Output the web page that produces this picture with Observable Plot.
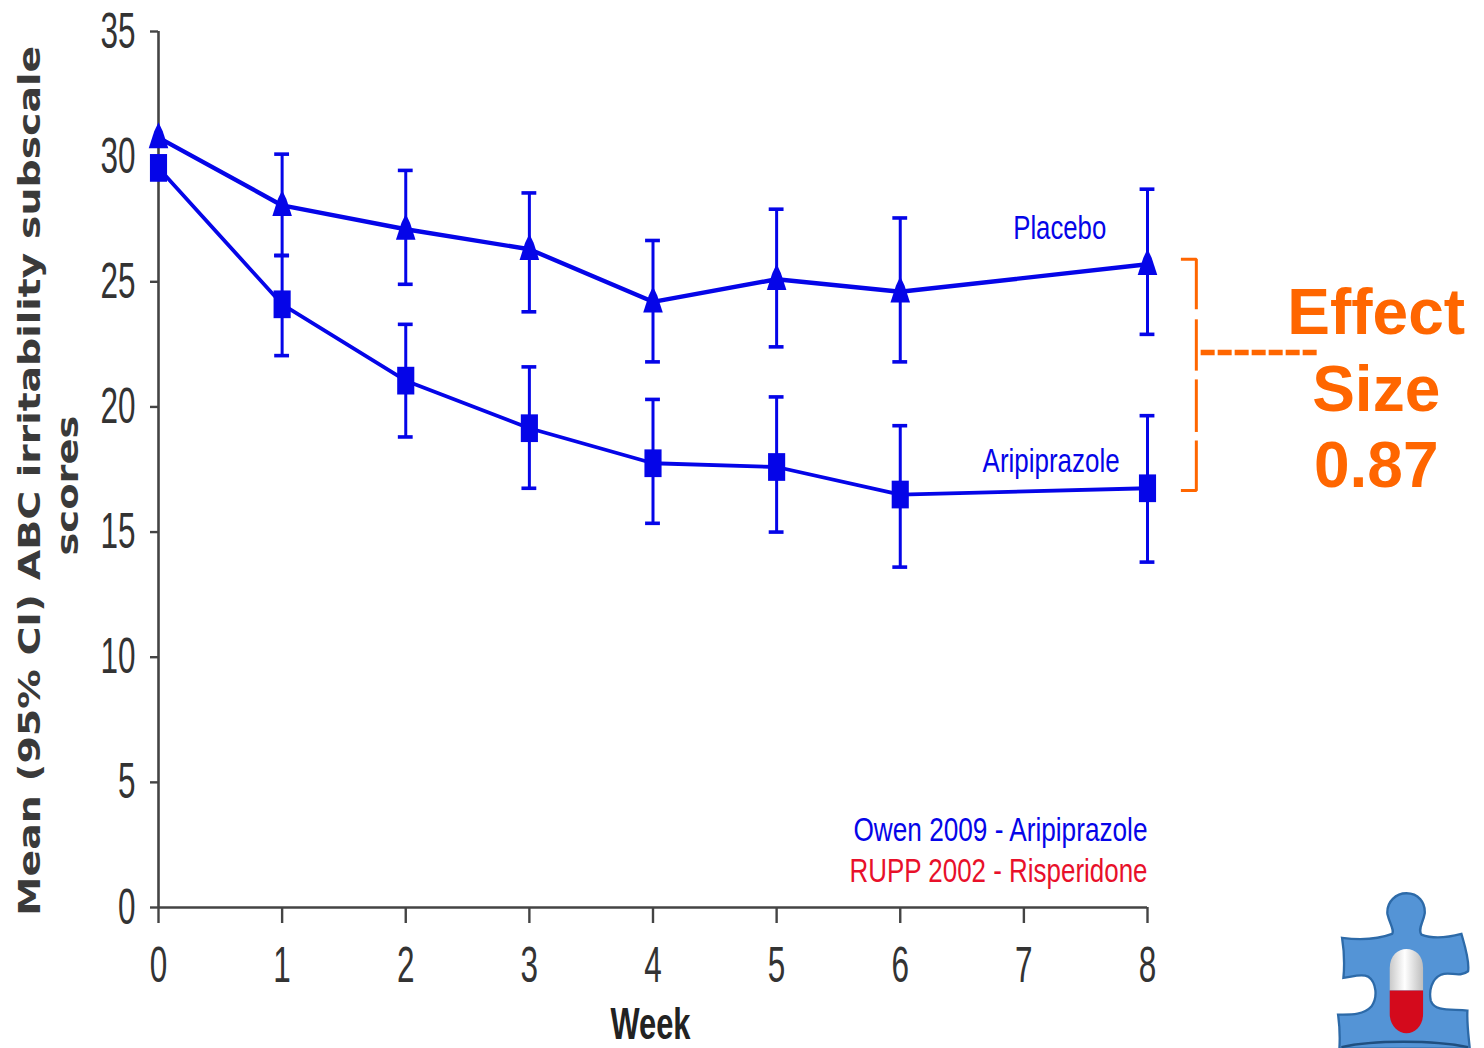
<!DOCTYPE html>
<html>
<head>
<meta charset="utf-8">
<style>html,body{margin:0;padding:0;background:#fff;overflow:hidden}svg{display:block}</style>
<script src="https://cdn.jsdelivr.net/npm/d3@7"></script>
<script src="https://cdn.jsdelivr.net/npm/@observablehq/plot@0.6"></script>
</head>
<body>
<div id="chart"></div>
<script>
const weeks = [0, 1, 2, 3, 4, 5, 6, 8];
const placeboMean = [30.76, 28.05, 27.1, 26.3, 24.2, 25.1, 24.6, 25.7];
const placeboHigh = [null, 30.1, 29.45, 28.55, 26.65, 27.9, 27.55, 28.7];
const placeboLow  = [null, 26.05, 24.9, 23.8, 21.8, 22.4, 21.8, 22.9];
const aripMean = [29.55, 24.1, 21.05, 19.15, 17.75, 17.6, 16.5, 16.75];
const aripHigh = [null, 26.05, 23.3, 21.6, 20.3, 20.4, 19.25, 19.65];
const aripLow  = [null, 22.05, 18.8, 16.75, 15.35, 15.0, 13.6, 13.8];
const xTicks = [0, 1, 2, 3, 4, 5, 6, 7, 8];
const yTicks = [0, 5, 10, 15, 20, 25, 30, 35];

const blue = "#0505e8", orange = "#ff6600", axisColor = "#444";
const capHalf = 0.06;

const rows = (means, highs, lows) => weeks.map((w, i) => ({w, mean: means[i], high: highs[i], low: lows[i]}));
const placebo = rows(placeboMean, placeboHigh, placeboLow);
const arip = rows(aripMean, aripHigh, aripLow);
const withCI = d => d.high != null;
const caps = s => s.filter(withCI).flatMap(d => [d.high, d.low].map(y => ({x1: d.w - capHalf, x2: d.w + capHalf, y})));

const tallTriangle = {draw(c, s) {
  const a = Math.sqrt(s);
  c.moveTo(0, -a * 0.72); c.lineTo(a * 0.2, -a * 0.3); c.lineTo(a * 0.46, a * 0.5); c.lineTo(-a * 0.46, a * 0.5); c.lineTo(-a * 0.2, -a * 0.3); c.closePath();
}};
const tallSquare = {draw(c, s) {
  const a = Math.sqrt(s);
  c.rect(-a * 0.42, -a * 0.68, a * 0.84, a * 1.36);
}};

// Puzzle-piece logo
const logo = `<svg xmlns="http://www.w3.org/2000/svg" viewBox="0 0 492 504">
<defs><linearGradient id="g" x1="0" x2="1" y1="0" y2="0"><stop offset="0" stop-color="#c9c9c9"/><stop offset=".45" stop-color="#fff"/><stop offset="1" stop-color="#bdbdbd"/></linearGradient></defs>
<path d="M62 172 C110 178 170 176 212 160 C220 150 205 130 198 100 C195 62 225 38 255 38 C290 38 312 65 310 98 C306 125 288 145 300 162 C340 178 390 168 420 160 C430 195 445 240 440 272 C415 292 385 272 360 282 C330 296 322 330 328 360 C340 395 390 385 438 390 C436 430 442 470 445 504 L54 504 C56 470 54 430 50 402 C85 402 125 405 150 378 C170 350 165 305 140 288 C118 278 90 290 66 292 C70 250 68 210 62 172 Z" fill="#5494d6" stroke="#2d6aa8" stroke-width="7"/>
<path d="M205 330 L205 262 C205 225 230 205 255 205 C282 205 305 225 305 262 L305 330 Z" fill="url(#g)"/>
<path d="M205 330 L305 330 L305 400 C305 435 282 458 255 458 C230 458 205 435 205 400 Z" fill="#d40a1c"/>
<path d="M60 500 C150 478 340 478 440 500" fill="none" stroke="#1f4f80" stroke-width="7"/>
</svg>`;
const logoSrc = "data:image/svg+xml," + encodeURIComponent(logo);

const labelFont = "Liberation Sans";
const narrow = (t, x, y, opts = {}) => Plot.text([t], {
  x: () => x, y: () => y, text: d => d, fontFamily: labelFont, fontSize: 34, fill: blue, ariaLabel: "fitted", ...opts
});
const effect = (t, y) => Plot.text([t], {
  x: () => 9.85, y: () => y, text: d => d, fontFamily: labelFont, fontWeight: "bold", fontSize: 64, fill: orange
});
const bracketLine = pts => Plot.line(pts, {stroke: orange, strokeWidth: 3, strokeLinecap: "butt", strokeLinejoin: "miter"});

const plot = Plot.plot({
  width: 1484, height: 1048,
  marginLeft: 158, marginRight: 337, marginTop: 31, marginBottom: 141,
  style: {background: "#fff", overflow: "hidden"},
  x: {domain: [0, 8], ticks: xTicks},
  y: {domain: [0, 35]},
  marks: [
    Plot.ruleX([0], {stroke: axisColor, strokeWidth: 2.6}),
    Plot.ruleY([0], {stroke: axisColor, strokeWidth: 2.6}),
    Plot.axisX({ticks: xTicks, tickSize: 16, tickPadding: 23, stroke: axisColor, strokeWidth: 2.4,
      fontSize: 50, fontFamily: labelFont, fill: "#333", label: null, tickFormat: d => String(d)}),
    Plot.axisY({ticks: yTicks, tickSize: 8, tickPadding: 15, stroke: axisColor, strokeWidth: 2.4,
      fontSize: 50, fontFamily: labelFont, fill: "#333", label: null, tickFormat: d => String(d)}),

    ...[placebo, arip].flatMap(s => [
      Plot.ruleX(s.filter(withCI), {x: "w", y1: "low", y2: "high", stroke: blue, strokeWidth: 3}),
      Plot.ruleY(caps(s), {x1: "x1", x2: "x2", y: "y", stroke: blue, strokeWidth: 3.6})
    ]),
    Plot.line(placebo, {x: "w", y: "mean", stroke: blue, strokeWidth: 4.4}),
    Plot.line(arip, {x: "w", y: "mean", stroke: blue, strokeWidth: 3.8}),
    Plot.dot(placebo, {x: "w", y: "mean", symbol: () => tallTriangle, r: 12, fill: blue, stroke: "none"}),
    Plot.dot(arip, {x: "w", y: "mean", symbol: () => tallSquare, r: 11.5, fill: blue, stroke: "none"}),

    narrow("Placebo", 7.29, 27.16),
    narrow("Aripiprazole", 7.22, 17.85),
    narrow("Owen 2009 - Aripiprazole", 8, 3.11, {textAnchor: "end"}),
    narrow("RUPP 2002 - Risperidone", 8, 1.47, {textAnchor: "end", fill: "#e8102a"}),
    narrow("Week", 3.98, -4.71, {fontSize: 44, fontWeight: "bold", fill: "#222"}),

    Plot.text(["Mean (95% CI) ABC irritability subscale"], {x: () => -1.04, y: () => 17.05, text: d => d, rotate: -90,
      fontFamily: "DejaVu Sans", fontWeight: "bold", fontSize: 31, fill: "#3a3a3a", ariaLabel: "fitted"}),
    Plot.text(["scores"], {x: () => -0.73, y: () => 16.86, text: d => d, rotate: -90,
      fontFamily: "DejaVu Sans", fontWeight: "bold", fontSize: 31, fill: "#3a3a3a", ariaLabel: "fitted"}),

    // effect-size bracket, split into segments like the reference
    bracketLine([[8.27, 25.9], [8.395, 25.9], [8.395, 23.9]]),
    bracketLine([[8.395, 23.5], [8.395, 21.45]]),
    bracketLine([[8.395, 21.1], [8.395, 19.0]]),
    bracketLine([[8.395, 18.66], [8.395, 16.66], [8.27, 16.66]]),
    Plot.line([[8.43, 22.17], [9.38, 22.17]], {stroke: orange, strokeWidth: 5.5, strokeDasharray: "14 3", strokeLinecap: "butt"}),
    effect("Effect", 23.74),
    effect("Size", 20.66),
    effect("0.87", 17.62),

    Plot.image([0], {x: () => 10.07, y: () => -2.28, src: () => logoSrc, width: 164, height: 168})
  ]
});
document.getElementById("chart").append(plot);

// Condense the narrow scan-style lettering to the reference widths
const fitWidths = {
  "Placebo": 93, "Aripiprazole": 137, "Owen 2009 - Aripiprazole": 294, "RUPP 2002 - Risperidone": 298,
  "Week": 80, "Mean (95% CI) ABC irritability subscale": 870, "scores": 140
};
const fit = (el, w) => { el.setAttribute("textLength", w); el.setAttribute("lengthAdjust", "spacingAndGlyphs"); };
plot.querySelectorAll("text").forEach(el => {
  const t = el.textContent.trim();
  if (fitWidths[t]) fit(el, fitWidths[t]);
  else if (/^\d+$/.test(t)) fit(el, el.getComputedTextLength() * 0.63);
});
</script>
</body>
</html>
